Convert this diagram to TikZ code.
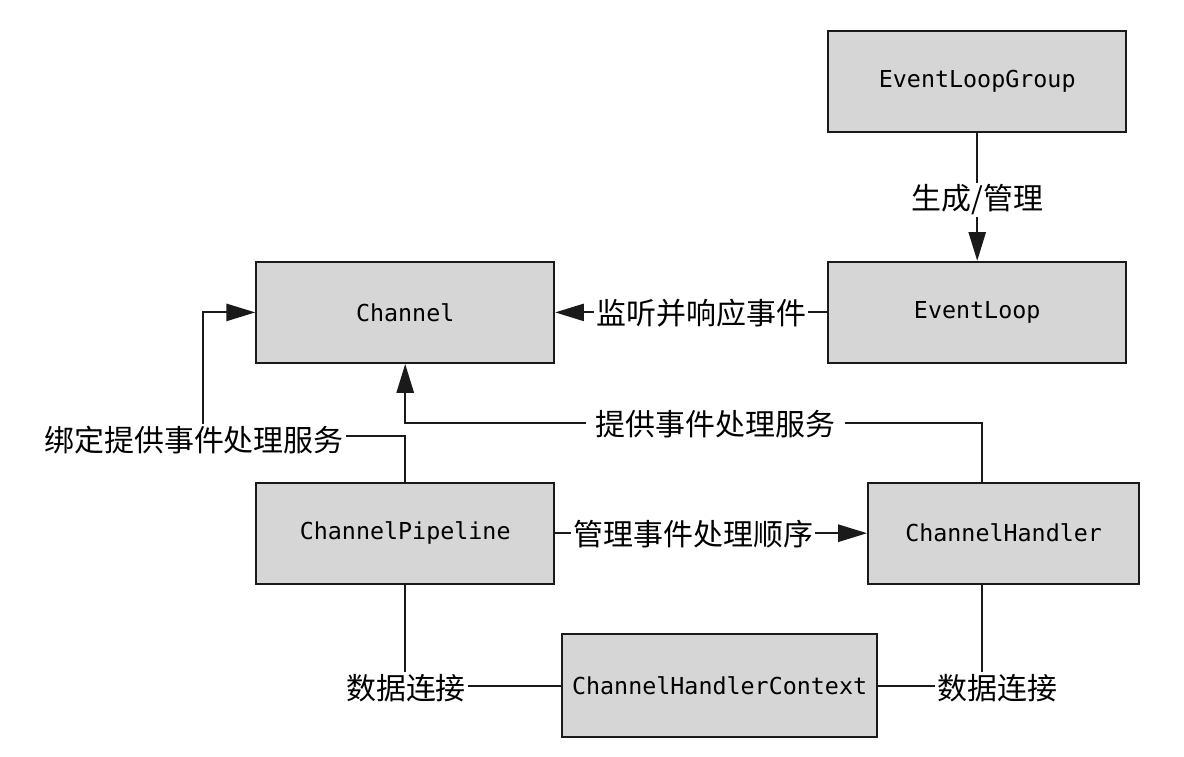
\documentclass[tikz,border=0pt]{standalone}
\usepackage{fontspec}
\setmonofont{DejaVu Sans Mono}
\newfontfamily\cjk{Noto Sans CJK SC}
\usetikzlibrary{arrows.meta,positioning,calc}
\definecolor{boxgray}{HTML}{D6D6D6}
\definecolor{edge}{HTML}{1A1A1A}
\begin{document}
\begin{tikzpicture}[box/.style={draw=edge,fill=boxgray,line width=1.4pt,minimum width=7.45cm,minimum height=2.53cm,inner sep=0pt,font=\fontsize{16.6}{20}\selectfont\ttfamily},lbl/.style={fill=white,inner sep=1.5pt,font=\fontsize{21.3}{26}\selectfont\cjk},link/.style={line width=1.4pt,edge},>={Triangle[length=7.2mm,width=4.3mm]}]
\useasboundingbox (0,0) rectangle (29.6,-18.9);
\node[box] (loopgroup) at (24.43,-2.04) {EventLoopGroup};
\node[box] (loop) at (24.43,-7.81) {EventLoop};
\node[box] (channel) at (10.13,-7.81) {Channel};
\node[box] (pipeline) at (10.13,-13.33) {ChannelPipeline};
\node[box,minimum width=6.78cm] (handler) at (25.09,-13.33) {ChannelHandler};
\node[box,minimum width=7.88cm,minimum height=2.58cm] (context) at (17.99,-17.14) {ChannelHandlerContext};
\draw[->,link] (loopgroup) -- (loop);
\draw[->,link] (loop) -- (channel);
\draw[->,link] ([xshift=-5.4mm]handler.north) |- (channel.south |- 0,-10.58) -- (channel.south);
\draw[->,link] (pipeline.north) |- (5.08,-10.9) |- (channel.west);
\draw[->,link] (pipeline) -- (handler);
\draw[link] (pipeline.south) |- (context.west);
\draw[link] ([xshift=-5.4mm]handler.south) |- (context.east);
\node[lbl] (manage) at (24.43,-5.0) {生成/管理};
\node[lbl] (listen) at (17.53,-7.83) {监听并响应事件};
\node[lbl,inner xsep=7pt] (provide) at (17.88,-10.6) {提供事件处理服务};
\node[lbl] (bind) at (4.85,-11.0) {绑定提供事件处理服务};
\node[lbl] (order) at (17.33,-13.36) {管理事件处理顺序};
\node[lbl] (dataleft) at (10.15,-17.2) {数据连接};
\node[lbl] (dataright) at (24.93,-17.2) {数据连接};
\end{tikzpicture}
\end{document}
